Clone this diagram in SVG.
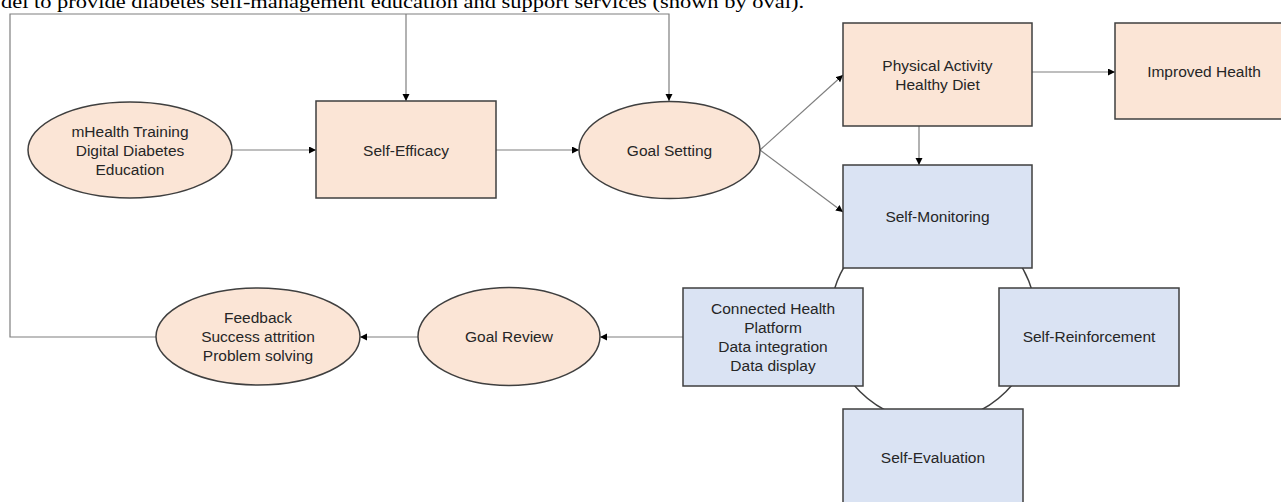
<svg xmlns="http://www.w3.org/2000/svg" width="1281" height="502" viewBox="0 0 1281 502">
<style>
.peach{fill:#fbe5d6;stroke:#3f3f3f;stroke-width:1.5}
.blue{fill:#dae3f3;stroke:#3f3f3f;stroke-width:1.5}
.lbl{font-family:"Liberation Sans",Arial,sans-serif;font-size:15.5px;fill:#262626;text-anchor:middle}
.conn{fill:none;stroke:#7f7f7f;stroke-width:1.2}
.arc{fill:none;stroke:#3f3f3f;stroke-width:1.5}
.title{font-family:"Liberation Serif","Times New Roman",serif;font-size:18px;fill:#000}
</style>
<defs>
<marker id="ah" markerUnits="userSpaceOnUse" markerWidth="8" markerHeight="8" refX="7" refY="3.5" orient="auto">
<path d="M0,0 L7,3.5 L0,7 z" fill="#000"/>
</marker>
</defs>
<rect width="1281" height="502" fill="#fff"/>
<text class="title" x="1" y="8" textLength="803" lengthAdjust="spacingAndGlyphs">del to provide diabetes self-management education and support services (shown by oval).</text>

<circle class="arc" cx="933" cy="319" r="103"/>

<g id="connectors">
<path class="conn" d="M232,150 H316" marker-end="url(#ah)"/>
<path class="conn" d="M496,150 H579" marker-end="url(#ah)"/>
<path class="conn" d="M156,337 H10 V14 H669 V101" marker-end="url(#ah)"/>
<path class="conn" d="M406,14 V101" marker-end="url(#ah)"/>
<path class="conn" d="M760,150 L843,75" marker-end="url(#ah)"/>
<path class="conn" d="M760,150 L843,212" marker-end="url(#ah)"/>
<path class="conn" d="M1032,72 H1115" marker-end="url(#ah)"/>
<path class="conn" d="M919,126 V165" marker-end="url(#ah)"/>
<path class="conn" d="M683,337 H600" marker-end="url(#ah)"/>
<path class="conn" d="M418,337 H360" marker-end="url(#ah)"/>
</g>

<g id="mhealth">
<ellipse class="peach" cx="130" cy="150" rx="102" ry="48"/>
<text class="lbl" x="130" y="137">mHealth Training</text>
<text class="lbl" x="130" y="156">Digital Diabetes</text>
<text class="lbl" x="130" y="175">Education</text>
</g>
<g id="self-efficacy">
<rect class="peach" x="316" y="101" width="180" height="97"/>
<text class="lbl" x="406" y="156">Self-Efficacy</text>
</g>
<g id="goal-setting">
<ellipse class="peach" cx="669.5" cy="150" rx="90.5" ry="48.5"/>
<text class="lbl" x="669.5" y="156">Goal Setting</text>
</g>
<g id="physical-activity">
<rect class="peach" x="843" y="23" width="189" height="103"/>
<text class="lbl" x="937.5" y="71">Physical Activity</text>
<text class="lbl" x="937.5" y="90">Healthy Diet</text>
</g>
<g id="improved-health">
<rect class="peach" x="1115" y="23" width="178" height="96"/>
<text class="lbl" x="1204" y="77">Improved  Health</text>
</g>
<g id="self-monitoring">
<rect class="blue" x="843" y="165" width="189" height="103"/>
<text class="lbl" x="937.5" y="222">Self-Monitoring</text>
</g>
<g id="connected-health">
<rect class="blue" x="683" y="288" width="180" height="98"/>
<text class="lbl" x="773" y="314">Connected Health</text>
<text class="lbl" x="773" y="333">Platform</text>
<text class="lbl" x="773" y="352">Data integration</text>
<text class="lbl" x="773" y="371">Data display</text>
</g>
<g id="self-reinforcement">
<rect class="blue" x="999" y="288" width="180" height="98"/>
<text class="lbl" x="1089" y="342">Self-Reinforcement</text>
</g>
<g id="self-evaluation">
<rect class="blue" x="843" y="409" width="180" height="98"/>
<text class="lbl" x="933" y="463">Self-Evaluation</text>
</g>
<g id="goal-review">
<ellipse class="peach" cx="509" cy="336.5" rx="91" ry="49"/>
<text class="lbl" x="509" y="342">Goal Review</text>
</g>
<g id="feedback">
<ellipse class="peach" cx="258" cy="336.5" rx="102" ry="48.5"/>
<text class="lbl" x="258" y="323">Feedback</text>
<text class="lbl" x="258" y="342">Success attrition</text>
<text class="lbl" x="258" y="361">Problem solving</text>
</g>
</svg>
